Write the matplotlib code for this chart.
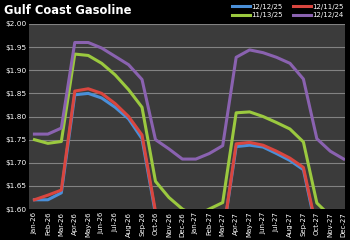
import matplotlib
matplotlib.use('Agg')
import matplotlib.pyplot as plt

months = ['Jan-26', 'Feb-26', 'Mar-26', 'Apr-26', 'May-26', 'Jun-26', 'Jul-26', 'Aug-26',
          'Sep-26', 'Oct-26', 'Nov-26', 'Dec-26', 'Jan-27', 'Feb-27', 'Mar-27', 'Apr-27',
          'May-27', 'Jun-27', 'Jul-27', 'Aug-27', 'Sep-27', 'Oct-27', 'Nov-27', 'Dec-27']

s_121225 = [1.620, 1.620, 1.635, 1.847, 1.850, 1.840, 1.820, 1.795, 1.752, 1.590, 1.560, 1.550,
            1.545, 1.545, 1.540, 1.735, 1.738, 1.734, 1.720, 1.705, 1.685, 1.550, 1.530, 1.525]
s_121125 = [1.620, 1.630, 1.641, 1.855, 1.860, 1.850, 1.828, 1.800, 1.760, 1.595, 1.565, 1.555,
            1.550, 1.550, 1.540, 1.741, 1.744, 1.738, 1.725, 1.710, 1.690, 1.555, 1.535, 1.530]
s_111325 = [1.750, 1.742, 1.746, 1.935, 1.932, 1.915, 1.890, 1.858, 1.820, 1.660, 1.625, 1.600,
            1.585, 1.600, 1.614, 1.808, 1.810, 1.800, 1.787, 1.773, 1.745, 1.613, 1.585, 1.580]
s_121224 = [1.762, 1.762, 1.775, 1.960, 1.960, 1.948, 1.930, 1.912, 1.880, 1.750, 1.730, 1.708,
            1.708, 1.720, 1.737, 1.928, 1.944, 1.938, 1.928, 1.915, 1.881, 1.752, 1.725, 1.708]

series = [('12/12/25', s_121225, '#4a8fd8'),
          ('12/11/25', s_121125, '#d9463f'),
          ('11/13/25', s_111325, '#9bc93f'),
          ('12/12/24', s_121224, '#8a62b0')]

fig = plt.figure(figsize=(3.5, 2.4), dpi=100, facecolor='black')
ax = fig.add_axes([0.083, 0.129, 0.903, 0.771])
ax.set_facecolor('#3b3b3b')

x = range(len(months))
lines = {}
for name, vals, col in series:
    lines[name], = ax.plot(x, vals, color=col, lw=2.2, label=name)

ax.set_ylim(1.60, 2.00)
ax.set_xlim(-0.4, len(months) - 0.9)
ax.set_yticks([1.60 + 0.05 * i for i in range(9)])
ax.set_yticklabels(['$%.2f' % (1.60 + 0.05 * i) for i in range(9)], color='white', fontsize=5.3)
ax.set_xticks(list(x))
ax.set_xticklabels(months, rotation=90, color='white', fontsize=5)
ax.tick_params(length=0, pad=2)
ax.yaxis.grid(True, color='#828282', lw=0.8)
ax.set_axisbelow(True)
for sp in ax.spines.values():
    sp.set_visible(False)

fig.text(0.01, 0.956, 'Gulf Coast Gasoline', color='white', fontsize=8.3, fontweight='bold', va='center')

leg = fig.legend(handles=[lines['12/12/25'], lines['11/13/25'], lines['12/11/25'], lines['12/12/24']],
                 loc='upper right', bbox_to_anchor=(1.0, 1.01), ncol=2, frameon=False,
                 fontsize=5, handlelength=2.6, handletextpad=0.2, columnspacing=1.4,
                 labelspacing=0.35)
for t in leg.get_texts():
    t.set_color('white')

fig.savefig('out.png', dpi=100, facecolor='black')
